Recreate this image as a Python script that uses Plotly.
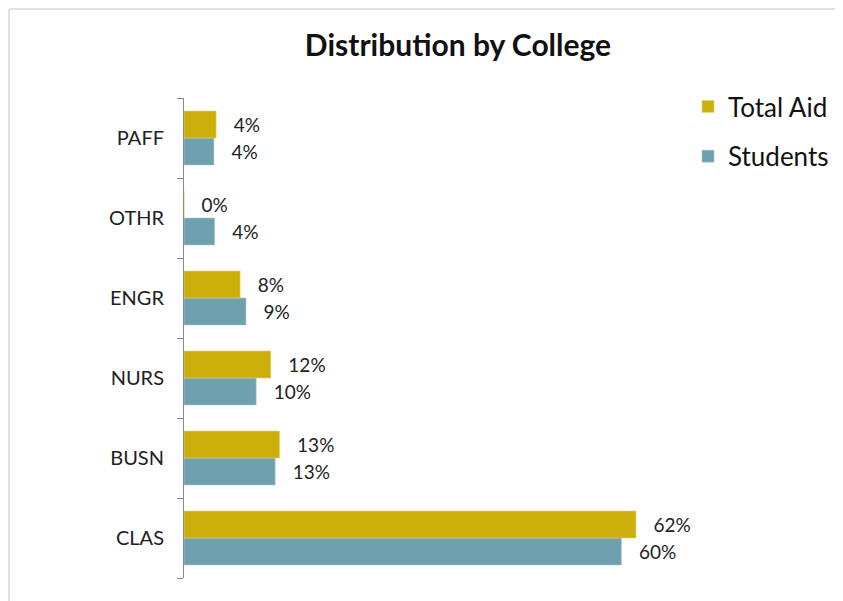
import plotly.graph_objects as go

categories = ["CLAS", "BUSN", "NURS", "ENGR", "OTHR", "PAFF"]
total_aid = [62, 13.1, 11.9, 7.7, 0, 4.4]
students = [60, 12.5, 9.9, 8.5, 4.2, 4.1]
total_aid_labels = ["62%", "13%", "12%", "8%", "0%", "4%"]
students_labels = ["60%", "13%", "10%", "9%", "4%", "4%"]

GOLD = "#CCAF0A"
TEAL = "#6FA0B0"
FONT = "Lato"
PAD = "\u00a0\u00a0\u00a0"

W, H = 835, 593
L, R, T, B = 176, 155, 90, 23
PW, PH = W - L - R, H - T - B
XMAX = PW / 7.29

fig = go.Figure()
fig.add_trace(go.Bar(
    y=categories, x=students, orientation="h", name="Students",
    marker=dict(color=TEAL, line=dict(color="#A9C6CF", width=0.6)),
    text=students_labels, texttemplate=PAD + "%{text}", textposition="outside",
    textfont=dict(family=FONT, size=19, color="#222"),
    cliponaxis=False, legendgroup="s", legendrank=2,
))
fig.add_trace(go.Bar(
    y=categories, x=total_aid, orientation="h", name="Total Aid",
    marker=dict(color=GOLD, line=dict(color="#E3D36A", width=0.6)),
    text=total_aid_labels, texttemplate=PAD + "%{text}", textposition="outside",
    textfont=dict(family=FONT, size=19, color="#222"),
    cliponaxis=False, legendgroup="a", legendrank=1,
))

fig.update_layout(
    width=W, height=H,
    paper_bgcolor="white", plot_bgcolor="white",
    barmode="group", bargap=0.325, bargroupgap=0,
    margin=dict(l=L, r=R, t=T, b=B, autoexpand=False),
    font=dict(family=FONT, color="#222"),
    title=dict(text="<b>Distribution by College</b>", x=450 / W, xanchor="center",
               y=1 - 37 / H, yanchor="middle", xref="container", yref="container",
               font=dict(family=FONT, size=30, color="#111")),
    legend=dict(x=680 / W, y=1 - 75 / H, xref="container", yref="container",
                xanchor="left", yanchor="top", font=dict(family=FONT, size=26, color="#111"),
                tracegroupgap=13, bgcolor="rgba(0,0,0,0)", itemwidth=30),
    showlegend=True,
)
fig.update_xaxes(range=[0, XMAX], visible=False, showgrid=False, zeroline=False, fixedrange=True)
fig.update_yaxes(
    type="category", categoryorder="array", categoryarray=categories,
    showline=True, linecolor="#888", linewidth=1,
    ticks="outside", tickson="boundaries", ticklen=6, tickcolor="#888",
    ticklabelstandoff=15,
    showgrid=False, tickfont=dict(family=FONT, size=20, color="#222"),
)
fig.add_shape(type="line", xref="paper", yref="paper", x0=-(L - 1) / PW, x1=(W - L) / PW,
              y0=1 + (T - 1) / PH, y1=1 + (T - 1) / PH, line=dict(color="#D9D9D9", width=1.5))
fig.add_shape(type="line", xref="paper", yref="paper", x0=-(L - 1) / PW, x1=-(L - 1) / PW,
              y0=-B / PH, y1=1 + (T - 1) / PH, line=dict(color="#D9D9D9", width=1.5))

fig.write_html("out.html")
